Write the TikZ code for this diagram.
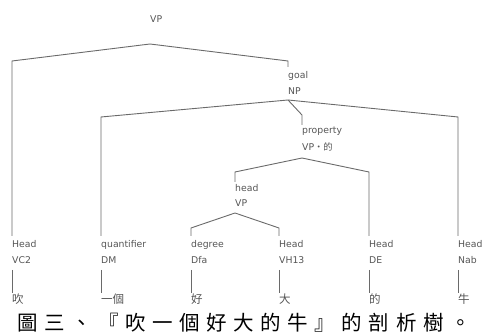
\documentclass[tikz,border=0pt]{standalone}
\usepackage{fontspec}
\setmainfont{DejaVu Sans}
\newfontfamily\cjk{Noto Sans CJK TC}
\newfontfamily\cjkcap[LetterSpace=32]{Noto Sans CJK TC}
\definecolor{lc}{HTML}{6A6A6A}
\definecolor{tc}{HTML}{555555}
\tikzset{
  lab/.style={anchor=base west, inner sep=0pt, text=tc, font=\fontsize{9.3}{10}\selectfont},
  word/.style={anchor=base west, inner sep=0pt, text=tc, font=\cjk\fontsize{11.5}{13}\selectfont},
  edge/.style={draw=lc, line width=0.9pt},
  captext/.style={anchor=base west, inner sep=0pt, text=black, font=\cjkcap\fontsize{20.5}{22}\selectfont}
}
\begin{document}
\begin{tikzpicture}[x=1pt,y=-1pt]
\useasboundingbox (0,0) rectangle (485,336);
% leaves
\foreach \i/\x/\r/\c/\w in {1/12/Head/VC2/吹, 2/101/quantifier/DM/一個, 3/191/degree/Dfa/好, 4/279/Head/VH13/大, 5/369/Head/DE/的, 6/458/Head/Nab/牛}{
  \node[lab] (r\i) at (\x,248) {\r};
  \node[lab] (c\i) at (\x,263.5) {\c};
  \node[word] (w\i) at (\x,303.5) {\w};
  \coordinate (u\i) at (\x,236);
  \coordinate (t\i) at (\x,270);
  \coordinate (b\i) at (\x,293);
  \draw[edge] (t\i) -- (b\i);
}
% root
\node[lab] (vp) at (150,22.7) {VP};
\coordinate (vpA) at (150,44);
% goal NP
\node[lab] (goal) at (288,78.5) {goal};
\node[lab] (np) at (288,94.5) {NP};
\coordinate (npT) at (288,67);
\coordinate (npA) at (288,100);
% property
\node[lab] (prop) at (302,134) {property};
\node[lab] (pvp) at (302,150.5) {VP{\cjk ・的}};
\coordinate (pT) at (302,125);
\coordinate (pA) at (302,158);
% head VP
\node[lab] (head) at (235,191.5) {head};
\node[lab] (hvp) at (235,207) {VP};
\coordinate (hT) at (235,182);
\coordinate (hA) at (235,213);
% bends
\coordinate (k1) at (12,61);
\coordinate (kG) at (288,61);
\coordinate (k2) at (101,117);
\coordinate (kP) at (302,115);
\coordinate (k6) at (458,117);
\coordinate (kH) at (235,172);
\coordinate (k5) at (369,172);
\coordinate (k3) at (191,228);
\coordinate (k4) at (279,228);
% edges
\draw[edge] (u1) -- (k1) -- (vpA) -- (kG) -- (npT);
\draw[edge] (u2) -- (k2) -- (npA) -- (k6) -- (u6);
\draw[edge] (npA) -- (kP) -- (pT);
\draw[edge] (hT) -- (kH) -- (pA) -- (k5) -- (u5);
\draw[edge] (u3) -- (k3) -- (hA) -- (k4) -- (u4);
% caption
\node[captext] (caption) at (17,331) {圖三、『吹一個好大的牛』的剖析樹。};
\end{tikzpicture}
\end{document}
